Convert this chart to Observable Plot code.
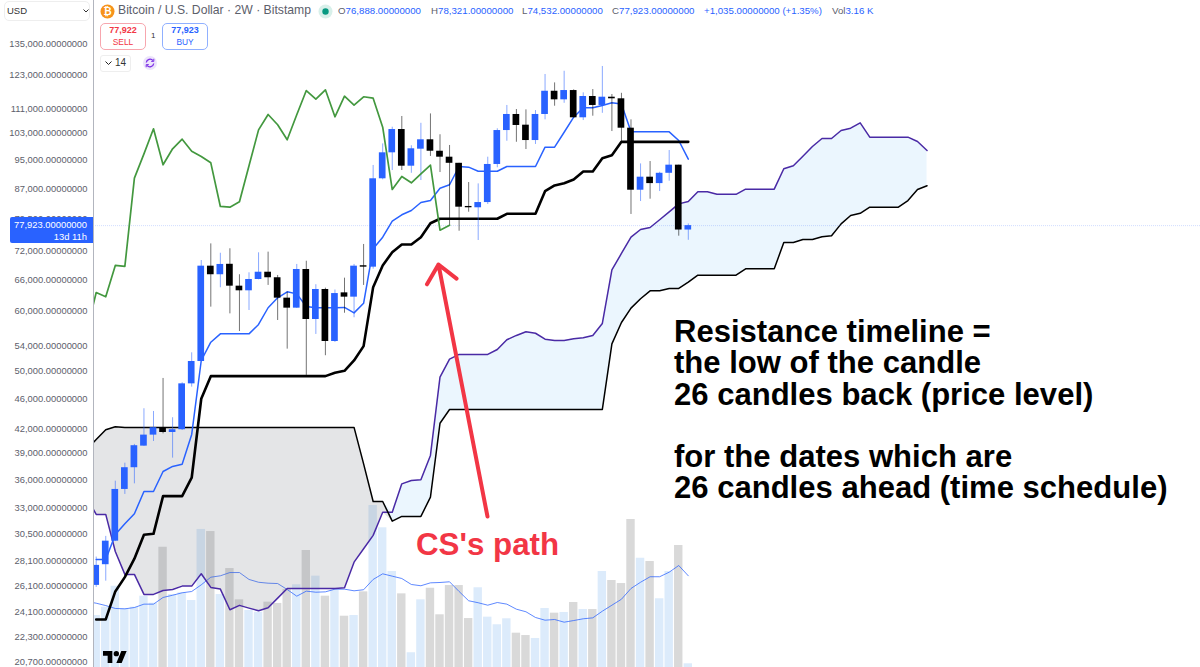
<!DOCTYPE html>
<html>
<head>
<meta charset="utf-8">
<script src="https://cdn.jsdelivr.net/npm/d3@7"></script>
<script src="https://cdn.jsdelivr.net/npm/@observablehq/plot@0.6"></script>
<style>
html,body{margin:0;padding:0;background:#fff;}
body{width:1200px;height:667px;overflow:hidden;position:relative;font-family:"Liberation Sans",Arial,sans-serif;}
#vol,#main{position:absolute;left:0;top:0;}
#main svg,#vol svg{background:transparent;display:block;}
.t{position:absolute;white-space:pre;}
.btn{position:absolute;box-sizing:border-box;border-radius:5px;text-align:center;background:#fff;}
.g{color:#5d606b}.b{color:#2962ff}
</style>
</head>
<body>
<div id="vol"></div>
<div id="main"></div>
<script>
const priceTicks=[135000,123000,111000,103000,95000,87000,79500,72000,66000,60000,54000,50000,46000,42000,39000,36000,33000,30500,28100,26100,24100,22300,20700];
const opens=[26157,27851,29913,34995,37380,39911,41267,42203,41597,41947,48212,51596,68902,67132,69296,64846,63940,66172,67648,66521,62529,60661,68211,58610,64194,54824,63542,62719,68992,68694,89822,97184,104300,93320,98260,101102,97653,95904,94144,82587,82258,83575,93808,103982,109172,105688,100876,109172,117147,114137,117398,108080,115293,112198,115050,114493,104724,86759,90259,88521,91332,93611,76888];
const closes=[27793,29913,34995,37380,39962,41267,42203,41597,41947,48212,51596,68902,67132,69262,64846,63940,66172,67648,66521,62529,60661,68211,58610,64194,54824,63407,62719,68902,68694,89822,97184,104300,93320,98380,101102,97653,95904,94144,82408,82258,83575,93808,103982,109172,105592,100876,109172,117147,114137,117398,108080,115293,112198,115050,114493,104724,86759,90259,88521,91332,93611,76888,77923];
const highs=[28501,30348,35885,37897,40119,44705,44335,49010,43503,48371,52973,70096,73722,71659,72637,67132,67530,71754,71900,66990,63666,69262,69946,65126,64455,64090,66440,69262,73594,93527,99849,105042,108510,99287,106290,109362,102660,99375,94144,88803,88439,95904,104533,112198,110833,110720,110487,123257,120151,124474,117650,116585,117757,126291,116001,116417,107410,93970,94647,91622,97862,93611,78321];
const lows=[25998,26495,29880,34473,35596,39880,40478,41427,38484,41850,47734,51596,60845,64533,59618,56512,60231,66100,64990,58432,53565,60600,49461,56011,52508,54660,59730,58920,64990,68278,89540,92101,92101,91332,89349,96117,91538,77961,76610,81153,74480,83089,92870,100660,100350,98161,99676,107410,111950,112939,108000,107185,108604,109564,103665,100350,80606,83832,84432,86414,89157,75467,74532];
const conversion=[28300,28300,30533,31528,32507,34782,34782,36957,37530,37776,41355,51755,54706,56108,56108,56108,56108,57736,60735,62598,63744,63347,60980,60735,60735,60735,60790,59800,61568,72637,75240,78970,80525,81577,83575,84090,87297,88206,93240,93040,91904,91904,91904,93240,93240,93240,93240,98859,98859,103442,108277,111410,111410,112198,113100,112730,103569,103569,103569,103569,103569,100876,95324];
const base=[23590,23590,25680,26822,28362,30500,30586,34294,34294,34294,36263,46083,49353,49353,49353,49353,49353,49353,49353,49353,49353,49353,49353,49353,49353,49861,50162,51755,54055,64650,69050,71880,73594,73594,75240,78480,79558,79558,79558,79558,79558,79558,79558,80771,80771,80771,80771,86494,88021,88603,89622,91819,91819,95614,96494,100475,100475,100475,100475,100475,100475,100475,100475];
// the three series below start one candle before the first visible one
const lagging=[56512,63607,62795,69050,68840,89985,96865,104533,93720,98380,101287,97653,96113,94280,82587,82408,83764,93439,104200,109172,105816,101102,109070,117398,114354,117650,108410,115398,112300,115200,114700,105042,86944,90460,88730,91180,93611,76845,78034];
const spanA=[34160,32443,32443,28993,27044,27044,25452,25452,25758,25837,
26100,26100,27097,25998,25863,24294,24618,24415,24220,24445,
25167,25918,25918,25918,25918,25918,25918,25974,28066,29236,
30441,32664,32664,35596,35962,36040,38803,49204,51965,52714,
52714,52714,52714,53511,55115,55843,56460,56212,55215,54992,
54992,55280,55450,55843,57910,68153,71610,75240,77010,77486,
79316,81253,83233,83832,86335,86335,85690,85690,85690,87032,
87032,87032,87032,92588,93439,96197,99068,101503,101503,103982,
104724,106443,101904,101904,101904,101904,101904,100568,97862];
const spanB=[39510,40726,41947,42332,42241,42241,42241,42241,42241,42241,
42241,42241,42241,42241,42241,42241,42241,42241,42241,42241,
42241,42241,42241,42241,42241,42241,42241,42241,42241,37822,
33742,33742,31784,32245,32245,32245,34190,42782,44607,44607,
44607,44607,44607,44607,44607,44607,44607,44607,44607,44607,
44607,44607,44607,44607,44607,54431,58075,60661,62415,63940,
63940,64396,64396,65627,67052,67052,67052,67052,67052,68362,
68362,68362,68362,74025,74025,74708,74708,75330,75560,78333,
80364,80895,82408,82408,82408,82408,84090,86944,87942];
const volumeK=[44.4,51.5,69.4,50.1,51.5,60.9,54.9,102.7,62.3,63.8,57.2,117.9,116.1,62.3,84.5,57.8,48.7,47.2,55.8,54.7,66.6,70.6,99.9,78,60.9,65.8,43.8,44.4,64.6,138.3,119.3,82,62.9,12.6,57.8,67.7,45,70,70,41.8,68.1,43,36.5,41.6,29.3,27.3,24.8,50.4,46.4,47,55.5,49.5,49.5,82,74.3,71.7,126.4,93.3,90.5,58.7,82,104.2,3.16];
const volumeMA=[56.4,54.9,52.9,50.4,50.1,51.2,54.1,54.1,59.8,61.7,63.8,64.9,70.6,77.1,78.3,81.1,81.1,75.2,72.8,72,71.7,66.6,60.9,65.2,64.3,64.6,66.9,66.9,65.5,66.4,75.2,80,78,76,70.9,69.8,72.3,72.6,73.2,64.9,57,55.3,53.2,55.5,54.1,49.8,47.6,42.7,40.4,41,38.7,40.1,41.6,42.4,48.1,53.2,58.3,67.5,72.8,77.5,77.5,81.4,87.1,78.3];
const lastPrice=77923;
const arrowFrom={i:40.97,p:32240}, arrowTo={i:35.84,p:69262};

const candles=opens.map((o,i)=>({i,o,c:closes[i],h:highs[i],l:lows[i],up:closes[i]>=o}));
const withIdx=(arr,start)=>arr.map((v,k)=>({i:k+start,v}));
const cloud=spanA.map((a,k)=>({i:k-1,a,b:spanB[k]}));
const xScale={domain:[-0.283,115.634],range:[93,1200],axis:null};
const UP="#2962ff",DOWN="#000000";

document.getElementById("vol").append(Plot.plot({
  width:1200,height:667,marginLeft:93,marginRight:0,marginTop:0,marginBottom:0,
  x:xScale,
  y:{domain:[0,200],range:[667,432.8],axis:null},
  marks:[
    Plot.rect(candles,{x1:d=>d.i-.44,x2:d=>d.i+.44,y1:0,y2:d=>volumeK[d.i],fill:d=>d.up?"#dcebfb":"#d9d9d9",clip:true}),
    Plot.line(withIdx(volumeMA,-1),{x:"i",y:"v",stroke:"#2962ff",strokeOpacity:.75,strokeWidth:1,clip:true})
  ]
}));

document.getElementById("main").append(Plot.plot({
  width:1200,height:667,marginLeft:93,marginRight:0,marginTop:0,marginBottom:0,
  style:{fontFamily:"'Liberation Sans',Arial,sans-serif",background:"transparent"},
  x:xScale,
  y:{type:"log",domain:[20700,135000],range:[662,44],axis:null},
  marks:[
    Plot.areaY(cloud,{x:"i",y1:"b",y2:d=>Math.min(d.a,d.b),fill:"#787b86",fillOpacity:.2,clip:true}),
    Plot.areaY(cloud,{x:"i",y1:"b",y2:d=>Math.max(d.a,d.b),fill:"#2196f3",fillOpacity:.09,clip:true}),
    Plot.line(cloud,{x:"i",y:"a",stroke:"#4a2aa5",strokeWidth:1.5,clip:true}),
    Plot.line(cloud,{x:"i",y:"b",stroke:"#000",strokeWidth:1.5,clip:true}),
    Plot.ruleY([lastPrice],{stroke:"#2962ff",strokeOpacity:.22,strokeWidth:1,strokeDasharray:"1,1"}),
    Plot.line(withIdx(conversion,0),{x:"i",y:"v",stroke:UP,strokeWidth:1.5,clip:true}),
    Plot.line(withIdx(base,0),{x:"i",y:"v",stroke:"#000",strokeWidth:2.6,clip:true}),
    Plot.ruleX(candles,{x:"i",y1:"l",y2:"h",stroke:d=>d.up?UP:DOWN,strokeOpacity:.55,strokeWidth:1,clip:true}),
    Plot.rect(candles,{x1:d=>d.i-.35,x2:d=>d.i+.35,y1:"o",y2:"c",fill:d=>d.up?UP:DOWN,clip:true}),
    Plot.line(withIdx(lagging,-1),{x:"i",y:"v",stroke:"#43983f",strokeWidth:1.7,clip:true}),
    Plot.ruleX([-0.283],{stroke:"#b2b5be",strokeWidth:1}),
    Plot.axisY(priceTicks,{anchor:"left",tickSize:0,tickPadding:6,label:null,fontSize:9.4,color:"#5d606b",fill:"#5d606b",dy:-0.5,tickFormat:d=>d3.format(",.8f")(d)}),
    Plot.arrow([0],{x1:()=>arrowFrom.i,y1:()=>arrowFrom.p,x2:()=>arrowTo.i,y2:()=>arrowTo.p,stroke:"#f23645",strokeWidth:4,headLength:8.6,headAngle:82})
  ]
}));

const ui=document.createElement("div");
ui.innerHTML=`
<div class="btn" style="left:4px;top:1px;width:86px;height:20px;border:1px solid #eeeeee;"></div>
<div class="t" style="left:7px;top:5px;font-size:9.5px;color:#333">USD</div>
<svg class="t" style="left:83px;top:9px" width="6" height="4"><path d="M.5 .5L3 3L5.5 .5" fill="none" stroke="#333" stroke-width="1"/></svg>

<svg class="t" style="left:100px;top:4px" width="15" height="15"><circle cx="7.5" cy="7.5" r="7" fill="#f7931a"/><text x="7.5" y="11" font-size="10" font-weight="bold" text-anchor="middle" fill="#fff">₿</text></svg>
<div class="t g" style="left:118px;top:3px;font-size:12.2px">Bitcoin / U.S. Dollar · 2W · Bitstamp</div>
<svg class="t" style="left:318px;top:4px" width="15" height="15"><circle cx="7.5" cy="7.5" r="7" fill="#d8f0ea"/><circle cx="7.5" cy="7.5" r="3.2" fill="#089981"/></svg>
<div class="t" style="left:338px;top:5px;font-size:9.7px"><span class="g">O</span><span class="b">76,888.00000000</span></div>
<div class="t" style="left:431px;top:5px;font-size:9.7px"><span class="g">H</span><span class="b">78,321.00000000</span></div>
<div class="t" style="left:522px;top:5px;font-size:9.7px"><span class="g">L</span><span class="b">74,532.00000000</span></div>
<div class="t" style="left:612px;top:5px;font-size:9.7px"><span class="g">C</span><span class="b">77,923.00000000</span></div>
<div class="t b" style="left:704px;top:5px;font-size:9.7px">+1,035.00000000 (+1.35%)</div>
<div class="t" style="left:832px;top:5px;font-size:9.7px"><span class="g">Vol</span><span class="b">3.16 K</span></div>

<div class="btn" style="left:100px;top:23px;width:46px;height:27px;border:1px solid #f7a6ae;"></div>
<div class="t" style="left:100px;width:46px;text-align:center;top:25px;font-size:9px;font-weight:bold;color:#f23645">77,922</div>
<div class="t" style="left:100px;width:46px;text-align:center;top:37px;font-size:8.4px;color:#f23645">SELL</div>
<div class="t" style="left:151px;top:31px;font-size:8px;color:#333">1</div>
<div class="btn" style="left:162px;top:23px;width:46px;height:27px;border:1px solid #90b0ff;"></div>
<div class="t" style="left:162px;width:46px;text-align:center;top:25px;font-size:9px;font-weight:bold;color:#2962ff">77,923</div>
<div class="t" style="left:162px;width:46px;text-align:center;top:37px;font-size:8.4px;color:#2962ff">BUY</div>

<div class="btn" style="left:100px;top:55px;width:31px;height:17px;border:1px solid #eeeeee;border-radius:3px"></div>
<svg class="t" style="left:105px;top:61px" width="7" height="5"><path d="M.5 .5L3.5 3.5L6.5 .5" fill="none" stroke="#222" stroke-width="1"/></svg>
<div class="t" style="left:115px;top:57px;font-size:10px;color:#333">14</div>
<svg class="t" style="left:143px;top:56px" width="14" height="14"><circle cx="7" cy="7" r="7" fill="#ece4fb"/><path d="M3.3 6.5A3.8 3.8 0 0 1 10 4.6M10.7 7.5A3.8 3.8 0 0 1 4 9.4" fill="none" stroke="#7c2fe6" stroke-width="1.3"/><path d="M10.8 2.8V5.4H8.2M3.2 11.2V8.6H5.8" fill="none" stroke="#7c2fe6" stroke-width="1"/></svg>

<div class="btn" style="left:10px;top:217px;width:83px;height:26px;background:#2962ff;border-radius:2px 0 0 2px"></div>
<div class="t" style="right:1113px;top:219px;font-size:9.4px;color:#fff">77,923.00000000</div>
<div class="t" style="right:1113px;top:231px;font-size:9.4px;color:#fff">13d 11h</div>

<svg class="t" style="left:103px;top:651px" width="24" height="12" viewBox="0 4 36 18"><path d="M14 22H7V11H0V4h14v18ZM28 22h-8l7.5-18h8L28 22Z" fill="#000"/><circle cx="20" cy="8" r="4" fill="#000"/></svg>

<div class="t" style="left:416px;top:526px;font-size:31.3px;font-weight:bold;line-height:38px;color:#f23645">CS's path</div>
<div class="t" style="left:674px;top:316px;font-size:31.05px;font-weight:bold;line-height:31.3px;color:#000">Resistance timeline =
the low of the candle
26 candles back (price level)

for the dates which are
26 candles ahead (time schedule)</div>`;
document.body.append(ui);
</script>
</body>
</html>
